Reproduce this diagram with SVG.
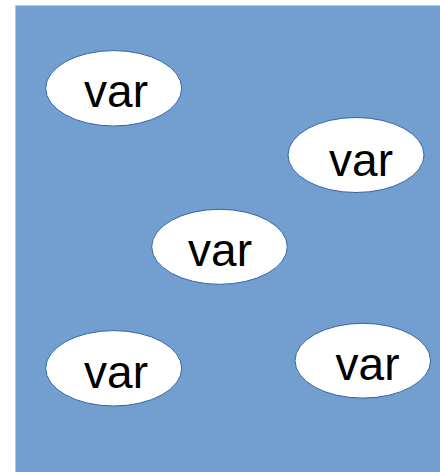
<svg xmlns="http://www.w3.org/2000/svg" width="440" height="472" viewBox="0 0 440 472">
<style>
.bg{fill:#729fcf;stroke:#b4c7dc;stroke-width:1}
.node ellipse{fill:#ffffff;stroke:#3465a4;stroke-width:1}
.node text{font-family:"Liberation Sans",Arial,sans-serif;font-size:46px;fill:#000000;text-anchor:middle}
</style>
<rect class="bg" x="15.5" y="5.5" width="440" height="480"/>
<g id="connectors"></g>
<g id="n1" class="node"><ellipse cx="113.7" cy="88.3" rx="68" ry="37.7"/><text x="116" y="107">var</text></g>
<g id="n2" class="node"><ellipse cx="356" cy="155" rx="68" ry="37.5"/><text x="361" y="176">var</text></g>
<g id="n3" class="node"><ellipse cx="219.5" cy="246.8" rx="67.8" ry="37.5"/><text x="220" y="266">var</text></g>
<g id="n4" class="node"><ellipse cx="113.7" cy="368.3" rx="68" ry="37.7"/><text x="116" y="388.3">var</text></g>
<g id="n5" class="node"><ellipse cx="362.8" cy="360.7" rx="67.8" ry="37.4"/><text x="367.5" y="380">var</text></g>
</svg>
